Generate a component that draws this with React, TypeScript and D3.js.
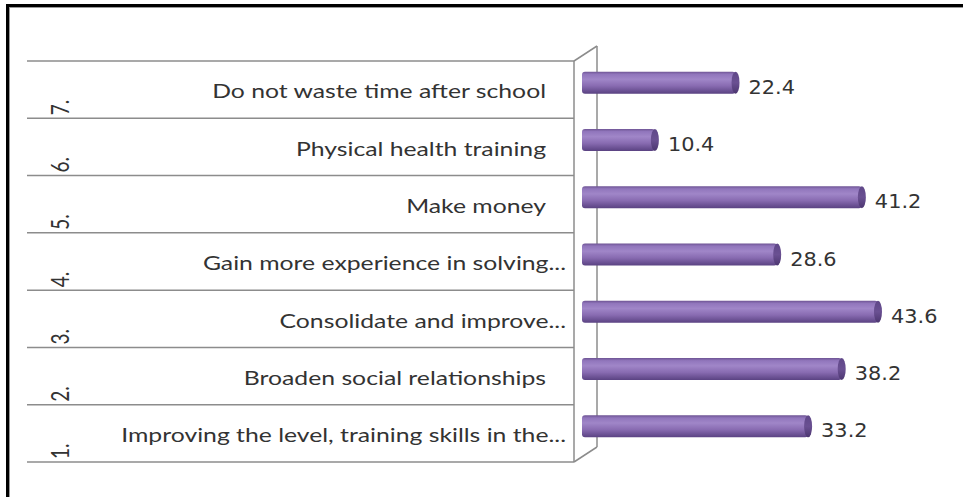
import * as d3 from "d3";

const ranks = ["1.", "2.", "3.", "4.", "5.", "6.", "7."];
const labels = [
  "Improving the level, training skills in the...",
  "Broaden social relationships",
  "Consolidate and improve...",
  "Gain more experience in solving...",
  "Make money",
  "Physical health training",
  "Do not waste time after school",
];
const values = [33.2, 38.2, 43.6, 28.6, 41.2, 10.4, 22.4];

const W = 963;
const H = 497;
// the source picture is stretched sideways, so text is widened to match
const STRETCH = 1.27;

export default function App() {
  // top row is rank 7, so reverse the band order
  const y = d3.scaleBand<string>().domain([...ranks].reverse()).range([61, 462]);
  const x = d3.scaleLinear().domain([0, 50]).range([589, 925]);

  const frontX = 574;
  const backX = 597;
  const depth = 15;
  const barH = 22;
  const barStart = 582;
  const gridLines = [...y.domain().map((d) => y(d)!), 462];

  return (
    <svg
      width={W}
      height={H}
      style={{ position: "absolute", left: 0, top: 0, background: "#fff" }}
    >
      <defs>
        <linearGradient id="cyl" x1="0" y1="0" x2="0" y2="1">
          <stop offset="0" stopColor="#6e5494" />
          <stop offset="0.12" stopColor="#9176bc" />
          <stop offset="0.35" stopColor="#a086c8" />
          <stop offset="0.65" stopColor="#886bb1" />
          <stop offset="1" stopColor="#5a4282" />
        </linearGradient>
        <linearGradient id="cap" x1="0" y1="0" x2="0" y2="1">
          <stop offset="0" stopColor="#5f4788" />
          <stop offset="0.5" stopColor="#6a5092" />
          <stop offset="1" stopColor="#4c3670" />
        </linearGradient>
      </defs>

      {/* outer frame */}
      <rect x={7.5} y={5.5} width={W + 20} height={H + 20} fill="none" stroke="#000" strokeWidth={3} />
      <rect x={9.5} y={7.5} width={W + 20} height={H + 20} fill="none" stroke="#999" strokeWidth={1} />

      {/* category grid */}
      <g stroke="#8c8c8c" strokeWidth={1.5}>
        {gridLines.map((gy, i) => (
          <line key={i} x1={27} x2={frontX} y1={gy} y2={gy} />
        ))}
        <line x1={frontX} x2={frontX} y1={61} y2={462} />
        <line x1={frontX} x2={backX} y1={61} y2={61 - depth} />
        <line x1={frontX} x2={backX} y1={462} y2={462 - depth} />
        <line x1={backX} x2={backX} y1={61 - depth} y2={462 - depth} />
      </g>

      {/* rotated rank numbers */}
      {ranks.map((r) => {
        const by = y(r)! + y.bandwidth() - 3;
        return (
          <text
            key={r}
            transform={`translate(69,${by}) rotate(-90) scale(1,${STRETCH})`}
            fontFamily="Lato"
            fontSize={19}
            fill="#333"
          >
            {r}
          </text>
        );
      })}

      {/* category labels */}
      {labels.map((t, i) => {
        const cy = y(ranks[i])! + y.bandwidth() / 2 + 2;
        const ex = t.endsWith("...") ? 566 : 546;
        return (
          <text
            key={t}
            transform={`translate(${ex},${cy}) scale(${STRETCH},1)`}
            dy="0.35em"
            textAnchor="end"
            fontFamily="Lato"
            fontSize={19.5}
            fill="#333"
          >
            {t}
          </text>
        );
      })}

      {/* cylinder bars */}
      {values.map((v, i) => {
        const cy = y(ranks[i])! + y.bandwidth() / 2 - 7;
        const top = cy - barH / 2;
        const end = x(v);
        return (
          <g key={i}>
            <rect x={barStart} y={top} width={end - barStart - 4} height={barH} rx={3} fill="url(#cyl)" />
            <ellipse cx={end - 4} cy={cy} rx={4} ry={barH / 2} fill="url(#cap)" />
            <text
              transform={`translate(${end + 9},${cy + 4}) scale(1.07,1)`}
              dy="0.36em"
              fontFamily="DejaVu Sans"
              fontSize={19.5}
              fill="#333"
            >
              {v.toFixed(1)}
            </text>
          </g>
        );
      })}
    </svg>
  );
}
